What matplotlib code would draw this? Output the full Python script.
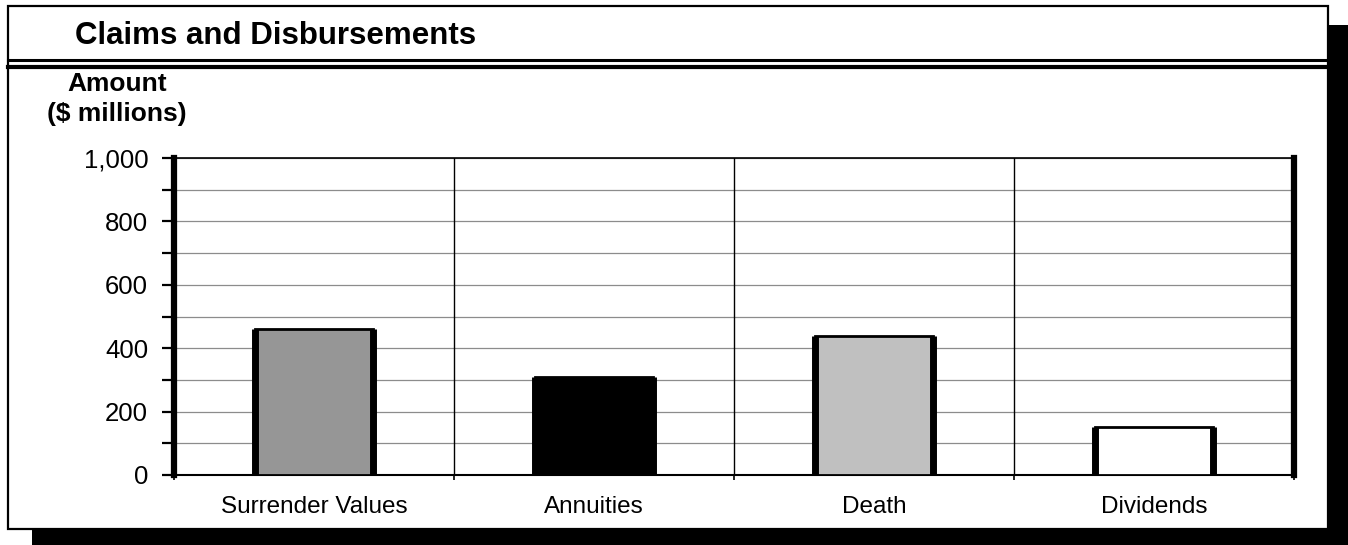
import matplotlib
matplotlib.use('Agg')
import matplotlib.pyplot as plt
import matplotlib.patches as mpatches
from matplotlib.lines import Line2D
from matplotlib.ticker import MultipleLocator, FuncFormatter
import numpy as np

# --- Data ---
categories = ['Surrender Values', 'Annuities', 'Death', 'Dividends']
amounts = [460, 310, 440, 150]          # $ millions
fills = ['#969696', '#000000', '#c0c0c0', '#ffffff']

W, H = 1348, 545
plt.rcParams['font.family'] = ['Liberation Sans', 'DejaVu Sans']

fig = plt.figure(figsize=(W / 100, H / 100), dpi=100)
fig.patch.set_facecolor('white')


def fx(px):
    return px / W


def fy(py):
    # pixel rows counted from the top
    return 1 - py / H


# drop shadow behind the frame
fig.add_artist(mpatches.Rectangle((fx(1328), fy(545)), fx(20), (H - 25) / H,
                                  transform=fig.transFigure, facecolor='black',
                                  edgecolor='none', zorder=0))
fig.add_artist(mpatches.Rectangle((fx(32), fy(545)), fx(1316), 15 / H,
                                  transform=fig.transFigure, facecolor='black',
                                  edgecolor='none', zorder=0))
# outer frame
fig.add_artist(mpatches.Rectangle((fx(8), fy(529)), fx(1320), (529 - 6) / H,
                                  transform=fig.transFigure, facecolor='white',
                                  edgecolor='black', linewidth=1.6, zorder=1))
# double rule under the title band
fig.add_artist(Line2D([fx(8), fx(1328)], [fy(60), fy(60)], transform=fig.transFigure,
                      color='black', linewidth=2.2, zorder=2))
fig.add_artist(Line2D([fx(8), fx(1328)], [fy(67), fy(67)], transform=fig.transFigure,
                      color='black', linewidth=3.0, zorder=2))

fig.text(fx(75), fy(44), 'Claims and Disbursements', fontsize=22.5, fontweight='bold',
         ha='left', va='baseline', zorder=3)
fig.text(fx(117), fy(91), 'Amount', fontsize=19, fontweight='bold',
         ha='center', va='baseline', zorder=3)
fig.text(fx(117), fy(121), '($ millions)', fontsize=19, fontweight='bold',
         ha='center', va='baseline', zorder=3)

# --- Bar chart ---
ax = fig.add_axes([fx(174), fy(475), fx(1294 - 174), (475 - 158) / H], zorder=4)
ax.set_facecolor('none')

x = np.arange(len(categories))
bw = 0.42
ax.bar(x, amounts, width=bw, color=fills, edgecolor='black', linewidth=2, zorder=3)
# heavier sides on each bar
ax.vlines(np.concatenate([x - bw / 2, x + bw / 2]), 0, amounts + amounts,
          colors='black', linewidth=5.0, capstyle='butt', zorder=4)

ax.set_xlim(-0.5, len(categories) - 0.5)
ax.set_ylim(0, 1000)

ax.yaxis.set_major_locator(MultipleLocator(200))
ax.yaxis.set_minor_locator(MultipleLocator(100))
ax.yaxis.set_major_formatter(FuncFormatter(lambda v, p: f'{int(v):,}'))
ax.grid(axis='y', which='both', color='#8c8c8c', linewidth=0.9)
ax.set_axisbelow(True)
for b in x[:-1] + 0.5:
    ax.axvline(b, color='black', linewidth=1.0, zorder=1)

ax.set_xticks(x)
ax.set_xticklabels(categories)
ax.set_xticks(np.arange(len(categories) + 1) - 0.5, minor=True)
ax.tick_params(axis='x', which='major', length=0, pad=15, labelsize=17.5)
ax.tick_params(axis='x', which='minor', length=3.5, width=1.2, direction='out')
ax.tick_params(axis='y', which='both', length=8.6, width=1.6, direction='out',
               pad=10, labelsize=18.5)

ax.spines['left'].set_linewidth(4.5)
ax.spines['right'].set_linewidth(4.5)
ax.spines['top'].set_linewidth(1.2)
ax.spines['bottom'].set_linewidth(1.5)

plt.savefig('out.png', dpi=100, facecolor='white')
plt.close()
